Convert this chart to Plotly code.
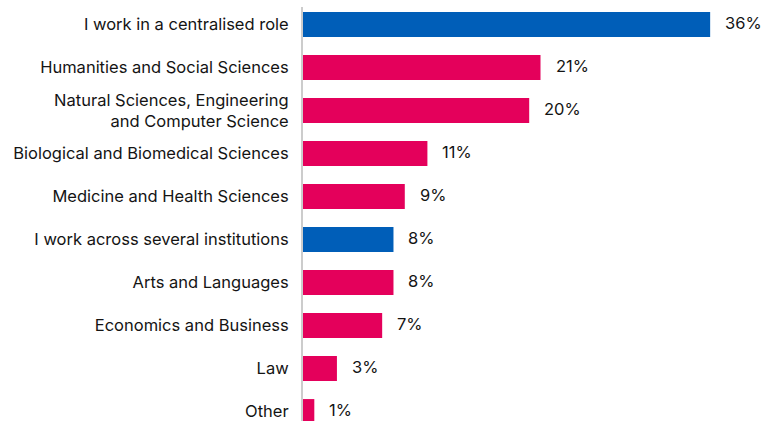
import plotly.graph_objects as go

# Survey responses: share of respondents by discipline / role
categories = [
    "I work in a centralised role",
    "Humanities and Social Sciences",
    "Natural Sciences, Engineering<br>and Computer Science",
    "Biological and Biomedical Sciences",
    "Medicine and Health Sciences",
    "I work across several institutions",
    "Arts and Languages",
    "Economics and Business",
    "Law",
    "Other",
]
values = [36, 21, 20, 11, 9, 8, 8, 7, 3, 1]
value_labels = [f"{v}%" for v in values]
highlight = [True, False, False, False, False, True, False, False, False, False]

BLUE = "#005EB8"
PINK = "#E4005B"
colors = [BLUE if h else PINK for h in highlight]

FONT = "Inter, Roboto, sans-serif"
TEXT = "#141414"

fig = go.Figure()
fig.add_trace(go.Bar(
    y=categories,
    x=values,
    orientation="h",
    marker=dict(color=colors, line=dict(width=0)),
    hoverinfo="skip",
))

for cat, v, lab in zip(categories, values, value_labels):
    fig.add_annotation(
        x=v, y=cat, text=lab, showarrow=False,
        xanchor="left", yanchor="middle", xshift=13, yshift=2,
        font=dict(family=FONT, size=16.5, color=TEXT),
    )

fig.update_layout(
    width=761, height=421,
    margin=dict(l=303, r=0, t=7, b=0),
    paper_bgcolor="white", plot_bgcolor="white",
    bargap=0.42,
    showlegend=False,
    font=dict(family=FONT, size=16.5, color=TEXT),
    xaxis=dict(
        range=[0, 458 / 11.31],
        visible=False,
        fixedrange=True,
    ),
    yaxis=dict(
        type="category",
        range=[9.22, -0.407],
        showline=True, linecolor="#cccccc", linewidth=2,
        showgrid=False, zeroline=False,
        ticks="", ticklabelstandoff=9,
        tickfont=dict(family=FONT, size=16.5, color=TEXT),
        fixedrange=True,
    ),
)

fig.write_html("out.html")
